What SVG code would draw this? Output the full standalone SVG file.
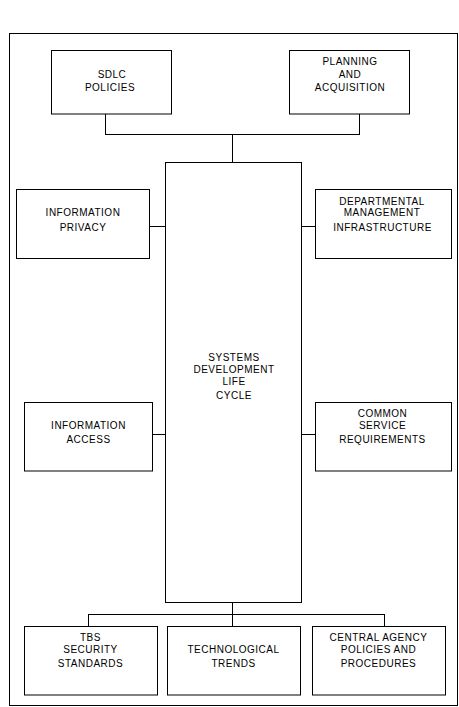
<svg xmlns="http://www.w3.org/2000/svg" width="459" height="707" viewBox="0 0 459 707">
<style>
rect{fill:#fff;stroke:#000;stroke-width:1}
.c line{stroke:#000;stroke-width:1}
text{font-family:"Liberation Sans",Arial,sans-serif;font-size:10px;letter-spacing:0.5px;text-anchor:middle;fill:#000}
</style>
<rect x="0" y="0" width="459" height="707" style="stroke:none"/>
<rect id="frame" x="9.5" y="33.5" width="448" height="672"/>
<g class="c" id="connectors">
<line x1="105.5" y1="114" x2="105.5" y2="134.5"/>
<line x1="359.5" y1="114" x2="359.5" y2="134.5"/>
<line x1="105" y1="134.5" x2="360" y2="134.5"/>
<line x1="232.5" y1="134.5" x2="232.5" y2="163"/>
<line x1="149" y1="226.5" x2="166" y2="226.5"/>
<line x1="301" y1="226.5" x2="316" y2="226.5"/>
<line x1="152" y1="434.5" x2="166" y2="434.5"/>
<line x1="301" y1="434.5" x2="316" y2="434.5"/>
<line x1="232.5" y1="602" x2="232.5" y2="627"/>
<line x1="88" y1="614.5" x2="385" y2="614.5"/>
<line x1="88.5" y1="614.5" x2="88.5" y2="627"/>
<line x1="384.5" y1="614.5" x2="384.5" y2="627"/>
</g>
<g id="sdlc-policies"><rect x="51.5" y="50.5" width="120" height="63.5"/>
<text x="112" y="77.5">SDLC</text><text x="110" y="91">POLICIES</text></g>
<g id="planning"><rect x="289.5" y="50.5" width="120" height="63.5"/>
<text x="350" y="65">PLANNING</text><text x="350" y="77.5">AND</text><text x="350" y="91">ACQUISITION</text></g>
<g id="systems"><rect x="165.5" y="162.5" width="136" height="440"/>
<text x="234" y="361">SYSTEMS</text><text x="234" y="373">DEVELOPMENT</text><text x="234" y="385">LIFE</text><text x="234" y="398.5">CYCLE</text></g>
<g id="info-privacy"><rect x="16.5" y="189.5" width="133" height="69"/>
<text x="83" y="216">INFORMATION</text><text x="83" y="231">PRIVACY</text></g>
<g id="dept"><rect x="315.5" y="189.5" width="136" height="69"/>
<text x="382" y="204.5">DEPARTMENTAL</text><text x="382" y="216">MANAGEMENT</text><text x="382.5" y="231">INFRASTRUCTURE</text></g>
<g id="info-access"><rect x="24.5" y="402.5" width="128" height="68.5"/>
<text x="88.5" y="429">INFORMATION</text><text x="88.5" y="443">ACCESS</text></g>
<g id="common"><rect x="315.5" y="402.5" width="136" height="68.5"/>
<text x="382.5" y="417">COMMON</text><text x="382.5" y="429">SERVICE</text><text x="382.5" y="443">REQUIREMENTS</text></g>
<g id="tbs"><rect x="24.5" y="626.5" width="133" height="68.5"/>
<text x="90.5" y="641">TBS</text><text x="90.5" y="653">SECURITY</text><text x="90.5" y="667">STANDARDS</text></g>
<g id="tech"><rect x="167.5" y="626.5" width="133" height="68.5"/>
<text x="233.5" y="653">TECHNOLOGICAL</text><text x="233.5" y="667">TRENDS</text></g>
<g id="central"><rect x="312.5" y="626.5" width="133" height="68.5"/>
<text x="378.5" y="641">CENTRAL AGENCY</text><text x="378.5" y="653">POLICIES AND</text><text x="378.5" y="667">PROCEDURES</text></g>
</svg>
